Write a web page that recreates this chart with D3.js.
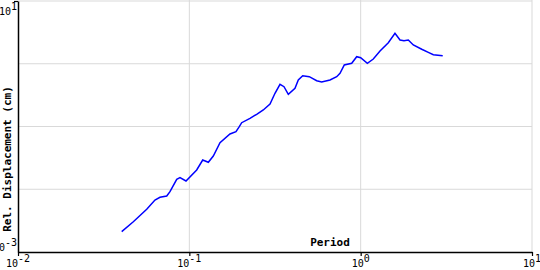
<!DOCTYPE html>
<html>
<head>
<meta charset="utf-8">
<script src="https://cdn.jsdelivr.net/npm/d3@7"></script>
<style>
  body { margin: 0; background: #fff; }
  svg { display: block; }
</style>
</head>
<body>
<div id="chart"></div>
<script>
// Spectral displacement values
const periods = [0.0403, 0.0471, 0.0564, 0.0630, 0.0674, 0.0738, 0.0771, 0.0844, 0.0882, 0.0956,
    0.1104, 0.1197, 0.1291, 0.1380, 0.1510, 0.1727, 0.1872, 0.1957, 0.2021, 0.2259,
    0.2472, 0.2702, 0.2957, 0.3162, 0.3382, 0.3569, 0.3782, 0.4137, 0.4325, 0.4589,
    0.5013, 0.5538, 0.5923, 0.6622, 0.7246, 0.7575, 0.8025, 0.8866, 0.9482, 1.0,
    1.094, 1.185, 1.297, 1.450, 1.586, 1.697, 1.790, 1.897, 2.029, 2.272,
    2.482, 2.655, 3.012];
const displacements = [0.00211, 0.00304, 0.00479, 0.00674, 0.00744, 0.00780, 0.00914, 0.01441, 0.01528, 0.01353,
    0.02026, 0.02924, 0.02689, 0.03388, 0.0552, 0.0760, 0.0826, 0.0993, 0.1150, 0.1351,
    0.1565, 0.1832, 0.2284, 0.3381, 0.4706, 0.4309, 0.3259, 0.4062, 0.5508, 0.6451,
    0.6217, 0.5369, 0.5119, 0.5508, 0.6217, 0.7045, 0.955, 1.017, 1.295, 1.248,
    1.017, 1.19, 1.597, 2.165, 3.058, 2.39, 2.33, 2.39, 1.99, 1.70,
    1.52, 1.394, 1.344];

const xTickValues = [0.01, 0.1, 1, 10];
const xTickExponents = ["-2", "-1", "0", "1"];
const yGridValues = [0.001, 0.01, 0.1, 1, 10];
const yLabelValues = [0.001, 10];
const yLabelExponents = ["-3", "1"];

const data = periods.map((p, i) => ({ period: p, disp: displacements[i] }));

const width = 540, height = 270;
const plot = { left: 18, right: 532, top: 1, bottom: 252 };
const monoFont = "'DejaVu Sans Mono', monospace";

const svg = d3.select("#chart").append("svg")
    .attr("width", width)
    .attr("height", height);

const x = d3.scaleLog().domain([0.01, 10]).range([plot.left, plot.right]);
const y = d3.scaleLog().domain([0.001, 10]).range([plot.bottom, plot.top]);

// Grid lines
svg.append("g")
    .selectAll("line")
    .data(xTickValues.slice(1))
    .join("line")
    .attr("x1", d => x(d)).attr("x2", d => x(d))
    .attr("y1", 0).attr("y2", plot.bottom)
    .attr("stroke", "#d9d9d9")
    .attr("stroke-width", 1);

svg.append("g")
    .selectAll("line")
    .data(yGridValues.slice(1))
    .join("line")
    .attr("x1", plot.left).attr("x2", plot.right)
    .attr("y1", d => y(d)).attr("y2", d => y(d))
    .attr("stroke", "#d9d9d9")
    .attr("stroke-width", 1);

// Axes
const xAxis = svg.append("g")
    .attr("transform", "translate(0," + plot.bottom + ")")
    .call(d3.axisBottom(x).tickValues(xTickValues).tickFormat(() => "").tickSize(4).tickSizeOuter(0));
xAxis.select(".domain").attr("stroke", "#000").attr("stroke-width", 1.5);
xAxis.selectAll(".tick line").attr("stroke", "#000").attr("stroke-width", 1.2);

const yAxis = svg.append("g")
    .attr("transform", "translate(" + plot.left + ",0)")
    .call(d3.axisLeft(y).tickValues(yLabelValues.slice(1)).tickFormat(() => "").tickSize(4).tickSizeOuter(0));
yAxis.select(".domain").attr("stroke", "#000").attr("stroke-width", 1.5);
yAxis.selectAll(".tick line").attr("stroke", "#000").attr("stroke-width", 1.2);

// X tick labels: 10 with superscript exponent
xTickValues.forEach((v, i) => {
    const t = svg.append("text")
        .attr("x", x(v))
        .attr("y", 267)
        .attr("text-anchor", "middle")
        .attr("font-family", monoFont)
        .attr("font-size", 10)
        .attr("fill", "#000");
    t.append("tspan").text("10");
    t.append("tspan").attr("dy", -5).text(xTickExponents[i]);
});

// Y tick labels, only at the ends
yLabelValues.forEach((v, i) => {
    const t = svg.append("text")
        .attr("x", plot.left - 1)
        .attr("y", i === 0 ? 251 : 15)
        .attr("text-anchor", "end")
        .attr("font-family", monoFont)
        .attr("font-size", 10)
        .attr("fill", "#000");
    t.append("tspan").text("10");
    t.append("tspan").attr("dy", -5).text(yLabelExponents[i]);
});

// Axis titles
svg.append("text")
    .attr("x", 330).attr("y", 246)
    .attr("text-anchor", "middle")
    .attr("font-family", monoFont)
    .attr("font-size", 11)
    .attr("font-weight", "bold")
    .text("Period");

svg.append("text")
    .attr("transform", "translate(11,159) rotate(-90)")
    .attr("text-anchor", "middle")
    .attr("font-family", monoFont)
    .attr("font-size", 11)
    .attr("font-weight", "bold")
    .text("Rel. Displacement (cm)");

// Response curve
svg.append("path")
    .datum(data)
    .attr("fill", "none")
    .attr("stroke", "#0000ff")
    .attr("stroke-width", 1.5)
    .attr("d", d3.line()
        .x(d => x(d.period))
        .y(d => y(d.disp)));
</script>
</body>
</html>
